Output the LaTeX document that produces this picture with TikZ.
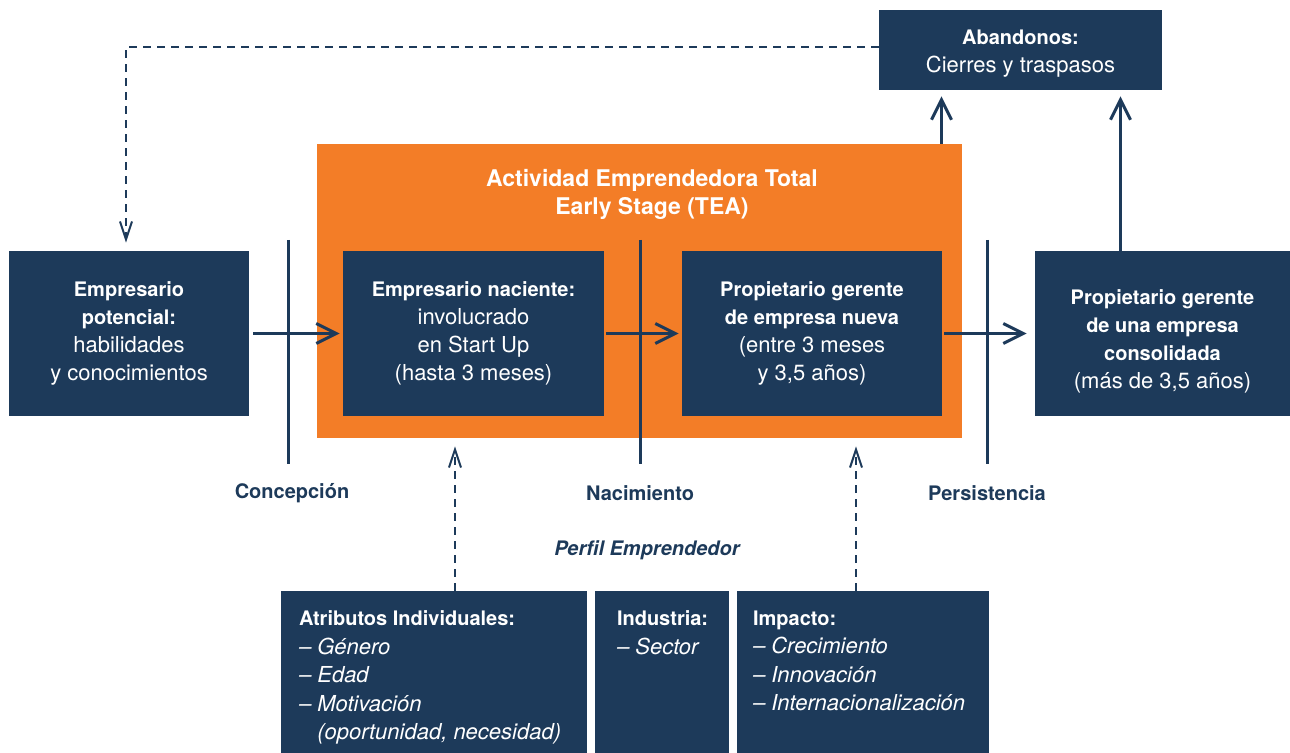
\documentclass[tikz,border=0pt]{standalone}
\usepackage{fontspec}
\setmainfont{TeX Gyre Heros}
\usetikzlibrary{arrows.meta,positioning}
\definecolor{navy}{HTML}{1D3A5A}
\definecolor{teaorange}{HTML}{F37D27}
\newcommand{\hd}[1]{{\fontsize{10}{14}\selectfont\bfseries #1}}
\tikzset{
  box/.style={fill=navy,text=white,align=center,inner sep=0pt,font=\fontsize{11}{14}\selectfont},
  listtxt/.style={text=white,align=left,inner sep=0pt,anchor=north west,font=\fontsize{11}{14.2}\selectfont},
  flow/.style={draw=navy,line width=1.5pt,-{Straight Barb[length=10pt,width=10pt,line width=1.5pt]}},
  back/.style={draw=navy,line width=1pt,dash pattern=on 4pt off 3pt,-{Straight Barb[length=9pt,width=6pt,line width=1pt]}},
  stageline/.style={draw=navy,line width=1.5pt},
  stagelabel/.style={text=navy,font=\fontsize{10}{12}\selectfont\bfseries,inner sep=0pt}
}
\begin{document}
\begin{tikzpicture}[x=0.5pt,y=-0.5pt]
  \useasboundingbox (0,0) rectangle (1290,753);
  % TEA block
  \node[box,fill=teaorange,minimum width=322.5pt,minimum height=147pt] (tea) at (639.5,291) {};
  \node[box,fill=none,font=\fontsize{11.5}{14}\selectfont\bfseries] (teatitle) at (652,194)
    {Actividad Emprendedora Total\\Early Stage (TEA)};
  % stage boxes
  \node[box,minimum width=120pt,minimum height=82.5pt] (pot) at (129,333.5)
    {\hd{Empresario}\\\hd{potencial:}\\habilidades\\y conocimientos};
  \node[box,minimum width=130.5pt,minimum height=82.5pt] (nac) at (473.5,333.5)
    {\hd{Empresario naciente:}\\involucrado\\en Start Up\\(hasta 3 meses)};
  \node[box,minimum width=130pt,minimum height=82.5pt] (nue) at (812,333.5)
    {\hd{Propietario gerente}\\\hd{de empresa nueva}\\(entre 3 meses\\y 3,5 años)};
  \node[box,minimum width=127.5pt,minimum height=82.5pt] (con) at (1162.5,333.5)
    {\rule{0pt}{15.5pt}\hd{Propietario gerente}\\\hd{de una empresa}\\\hd{consolidada}\\(más de 3,5 años)};
  \node[box,minimum width=141.5pt,minimum height=40pt] (aban) at (1020.5,50)
    {\rule{0pt}{11pt}\hd{Abandonos:}\\Cierres y traspasos};
  % stage limits
  \coordinate (s1a) at (288,240); \coordinate (s1b) at (288,464);
  \coordinate (s2a) at (640,240); \coordinate (s2b) at (640,464);
  \coordinate (s3a) at (987,240); \coordinate (s3b) at (987,464);
  \draw[stageline] (s1a) -- (s1b);
  \draw[stageline] (s2a) -- (s2b);
  \draw[stageline] (s3a) -- (s3b);
  \node[stagelabel] (concep) at (292,493) {Concepción};
  \node[stagelabel] (nacim) at (640,493) {Nacimiento};
  \node[stagelabel] (persis) at (987,493) {Persistencia};
  % flow
  \draw[flow,shorten <=2pt,shorten >=1.5pt] (pot.east) -- (nac.west);
  \draw[flow,shorten <=1pt,shorten >=1.5pt] (nac.east) -- (nue.west);
  \draw[flow,shorten <=1pt,shorten >=4pt] (nue.east) -- (con.west);
  \draw[flow,shorten >=3pt] ([xshift=151pt]tea.north) -- ([xshift=151pt]tea.north |- aban.south);
  \draw[flow,shorten >=3pt] ([xshift=-21pt]con.north) -- ([xshift=-21pt]con.north |- aban.south);
  \draw[back,shorten >=4pt] ([yshift=1.5pt]aban.west) -| ([xshift=-1.5pt]pot.north);
  % profile
  \node[text=navy,font=\fontsize{10}{12}\selectfont\bfseries\itshape,inner sep=0pt] (perfil) at (647,550) {Perfil Emprendedor};
  \node[box,minimum width=153pt,minimum height=81pt] (atr) at (434,672) {};
  \node[box,minimum width=67pt,minimum height=81pt] (ind) at (662,672) {};
  \node[box,minimum width=126pt,minimum height=81pt] (imp) at (863,672) {};
  \node[listtxt] (atrtxt) at ([shift={(18,20)}]atr.north west)
    {\hd{Atributos Individuales:}\\\textit{– Género}\\\textit{– Edad}\\\textit{– Motivación}\\\textit{\phantom{– }(oportunidad, necesidad)}};
  \node[listtxt] (indtxt) at ([shift={(22,20)}]ind.north west)
    {\hd{Industria:}\\\textit{– Sector}};
  \node[listtxt] (imptxt) at ([shift={(16,20)}]imp.north west)
    {\hd{Impacto:}\\\textit{– Crecimiento}\\\textit{– Innovación}\\\textit{– Internacionalización}};
  \draw[back,shorten >=4pt] ([xshift=10.5pt]atr.north) -- ([xshift=10.5pt]atr.north |- tea.south);
  \draw[back,shorten >=4pt] ([xshift=-3.5pt]imp.north) -- ([xshift=-3.5pt]imp.north |- tea.south);
\end{tikzpicture}
\end{document}
